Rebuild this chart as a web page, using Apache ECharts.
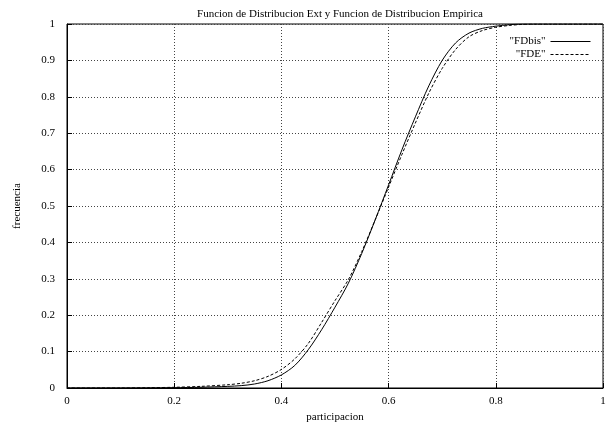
<!DOCTYPE html>
<html>
<head>
<meta charset="utf-8">
<script src="https://cdn.jsdelivr.net/npm/echarts@6/dist/echarts.min.js"></script>
<style>
  html, body { margin: 0; padding: 0; background: #fff; }
  #chart { width: 614px; height: 429px; }
</style>
</head>
<body>
<div id="chart"></div>
<script>
// valores (participacion -> frecuencia)
var xs = [0, 0.1, 0.15, 0.2, 0.25, 0.3, 0.325, 0.35, 0.375, 0.4, 0.425, 0.45, 0.475, 0.5,
          0.525, 0.55, 0.575, 0.6, 0.625, 0.65, 0.675, 0.7, 0.725, 0.75, 0.775, 0.8,
          0.825, 0.85, 0.875, 0.9, 1];
var fdbis = [0, 0, 0.0002, 0.0008, 0.002, 0.0045, 0.0065, 0.011, 0.02, 0.036, 0.062, 0.105, 0.16, 0.222,
             0.288, 0.37, 0.462, 0.558, 0.655, 0.745, 0.83, 0.9, 0.948, 0.975, 0.988, 0.994,
             0.998, 1, 1, 1, 1];
var fde = [0, 0, 0.0008, 0.002, 0.0045, 0.009, 0.013, 0.02, 0.032, 0.051, 0.08, 0.122, 0.18, 0.24,
           0.298, 0.375, 0.462, 0.552, 0.642, 0.728, 0.81, 0.878, 0.93, 0.965, 0.982, 0.991,
           0.996, 0.999, 1, 1, 1];
var xTicks = ['0', '0.2', '0.4', '0.6', '0.8', '1'];
var yTicks = ['0', '0.1', '0.2', '0.3', '0.4', '0.5', '0.6', '0.7', '0.8', '0.9', '1'];

function pares(ys) {
    return xs.map(function (x, i) { return [x, ys[i]]; });
}

var fuente = 'Liberation Serif';
var chart = echarts.init(document.getElementById('chart'));
chart.setOption({
    backgroundColor: '#ffffff',
    animation: false,
    textStyle: { fontFamily: fuente },
    title: {
        text: 'Funcion de Distribucion Ext y Funcion de Distribucion Empirica',
        left: 335,
        top: 4,
        textAlign: 'center',
        textStyle: { fontFamily: fuente, fontSize: 11, fontWeight: 'normal', color: '#000' }
    },
    legend: {
        right: 18,
        top: 31,
        orient: 'vertical',
        align: 'right',
        itemGap: 2,
        itemWidth: 40,
        itemHeight: 10,
        itemStyle: { opacity: 0 },
        lineStyle: { width: 1 },
        textStyle: { fontFamily: fuente, fontSize: 11, color: '#000' },
        data: ['"FDbis"', '"FDE"']
    },
    grid: { left: 67, right: 11, top: 24, bottom: 41, show: true, borderColor: '#000', borderWidth: 1 },
    xAxis: {
        type: 'value',
        min: 0, max: 1, interval: 0.2,
        name: 'participacion',
        nameLocation: 'middle',
        nameGap: 24,
        nameTextStyle: { fontFamily: fuente, fontSize: 11, color: '#000' },
        axisLine: { lineStyle: { color: '#000' } },
        axisTick: { inside: true, length: 5, lineStyle: { color: '#000' } },
        axisLabel: {
            color: '#000', fontSize: 11, margin: 8,
            formatter: function (v) { return xTicks[Math.round(v / 0.2)]; }
        },
        splitLine: { show: true, lineStyle: { type: [1, 2], color: '#444' } }
    },
    yAxis: {
        type: 'value',
        min: 0, max: 1, interval: 0.1,
        name: 'frecuencia',
        nameLocation: 'middle',
        nameGap: 44,
        nameTextStyle: { fontFamily: fuente, fontSize: 11, color: '#000' },
        axisLine: { show: true, lineStyle: { color: '#000' } },
        axisTick: { show: true, inside: true, length: 5, lineStyle: { color: '#000' } },
        axisLabel: {
            color: '#000', fontSize: 11, margin: 12,
            formatter: function (v) { return yTicks[Math.round(v / 0.1)]; }
        },
        splitLine: { show: true, lineStyle: { type: [1, 2], color: '#444' } }
    },
    series: [{
        name: '"FDbis"',
        type: 'line',
        data: pares(fdbis),
        smooth: 0.3,
        symbol: 'none',
        lineStyle: { color: '#000', width: 1 },
        itemStyle: { color: '#000' }
    }, {
        name: '"FDE"',
        type: 'line',
        data: pares(fde),
        smooth: 0.3,
        symbol: 'none',
        lineStyle: { color: '#000', width: 1, type: [3, 2] },
        itemStyle: { color: '#000' }
    }]
});
</script>
</body>
</html>
